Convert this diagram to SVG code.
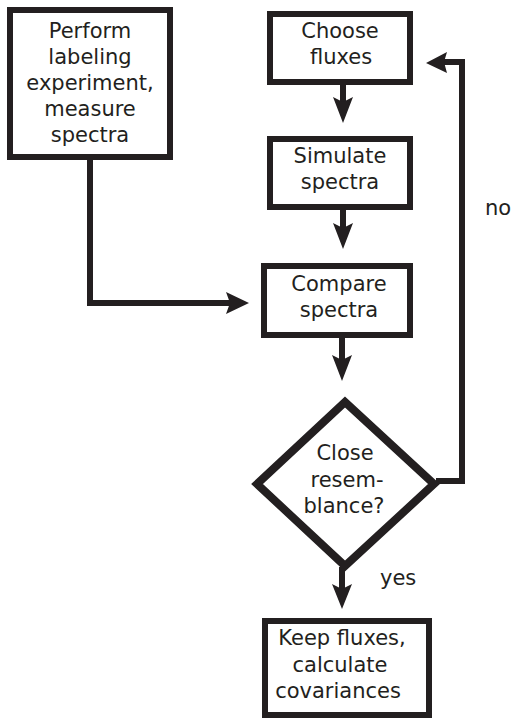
<svg xmlns="http://www.w3.org/2000/svg" width="514" height="720" viewBox="0 0 514 720">
<style>
.box{fill:#fff;stroke:#231f20;stroke-width:6}
.dia{fill:#fff;stroke:#231f20;stroke-width:8;stroke-linejoin:miter}
.t{font-family:"DejaVu Sans",sans-serif;font-size:21px;fill:#231f20;text-anchor:middle}
.lbl{font-family:"DejaVu Sans",sans-serif;font-size:21px;fill:#231f20}
.c{fill:none;stroke:#231f20;stroke-width:6}
.ah{fill:#231f20}
</style>
<rect width="514" height="720" fill="#fff"/>
<g id="perform">
<rect class="box" x="10" y="10" width="160" height="147"/>
<text class="t" x="90" y="38">Perform</text>
<text class="t" x="90" y="64">labeling</text>
<text class="t" x="90" y="90">experiment,</text>
<text class="t" x="90" y="116">measure</text>
<text class="t" x="90" y="142">spectra</text>
</g>
<g id="choose">
<rect class="box" x="270" y="14" width="140" height="68"/>
<text class="t" x="340" y="38">Choose</text>
<text class="t" x="341" y="64">fluxes</text>
</g>
<g id="simulate">
<rect class="box" x="270" y="139" width="140" height="68"/>
<text class="t" x="340" y="163">Simulate</text>
<text class="t" x="340" y="189">spectra</text>
</g>
<g id="compare">
<rect class="box" x="264" y="266" width="146" height="69"/>
<text class="t" x="339" y="291">Compare</text>
<text class="t" x="339" y="317">spectra</text>
</g>
<g id="decision">
<polygon class="dia" points="345,402 434,484 345,566 257,484"/>
<text class="t" x="345" y="460">Close</text>
<text class="t" x="347" y="487">resem-</text>
<text class="t" x="344" y="513">blance?</text>
</g>
<g id="keep">
<rect class="box" x="265" y="621" width="164" height="94"/>
<text class="t" x="342" y="645">Keep fluxes,</text>
<text class="t" x="340" y="672">calculate</text>
<text class="t" x="338" y="698">covariances</text>
</g>
<g id="connectors">
<line class="c" x1="343" y1="85" x2="343" y2="104"/>
<polygon class="ah" points="333,97 343,102 353,97 343,123"/>
<line class="c" x1="343" y1="210" x2="343" y2="230"/>
<polygon class="ah" points="333,223 343,228 353,223 343,249"/>
<polyline class="c" points="90,160 90,303 232,303"/>
<polygon class="ah" points="226,292 230,303 226,314 249,303"/>
<line class="c" x1="342" y1="337" x2="342" y2="360"/>
<polygon class="ah" points="332,355 342,360 352,355 342,381"/>
<polyline class="c" points="436,481 462,481 462,62 443,62"/>
<polygon class="ah" points="447,52 444,62 447,73 426,63"/>
<line class="c" x1="342" y1="567" x2="342" y2="590"/>
<polygon class="ah" points="332,584 342,589 352,584 342,609"/>
<text class="lbl" x="485" y="215">no</text>
<text class="lbl" x="380" y="585">yes</text>
</g>
</svg>
